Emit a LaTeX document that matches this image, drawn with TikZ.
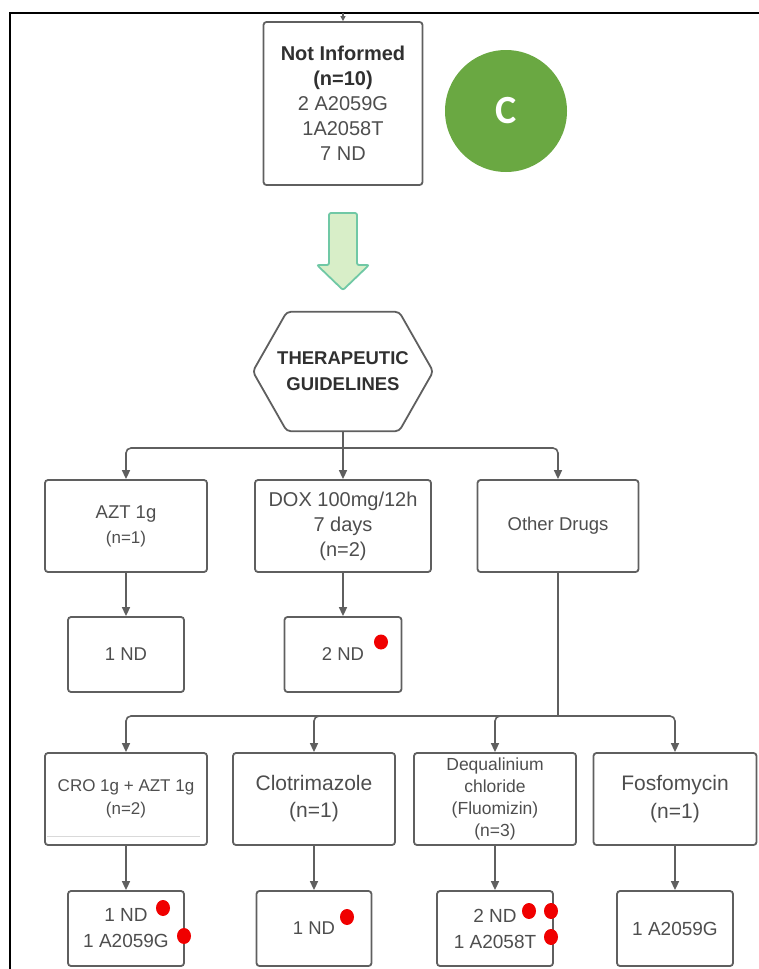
\documentclass[tikz,border=0pt]{standalone}
\usepackage{fontspec}
\setmainfont{Liberation Sans}
\newfontfamily\badgefont{Carlito}
\usepackage{tikz}
\usetikzlibrary{arrows.meta}

\definecolor{linegray}{RGB}{95,95,95}
\definecolor{textgray}{RGB}{78,78,78}
\definecolor{headgray}{RGB}{48,48,48}
\definecolor{badgegreen}{RGB}{106,168,66}
\definecolor{arrowfill}{RGB}{216,238,200}
\definecolor{arrowline}{RGB}{112,200,165}
\definecolor{dotred}{RGB}{240,0,0}

\newcommand{\fsbig}{\fontsize{20}{25}\selectfont}
\newcommand{\fsmid}{\fontsize{18.5}{25}\selectfont}
\newcommand{\fssmall}{\fontsize{17}{23}\selectfont}

\tikzset{
  box/.style={draw=linegray, line width=1.8pt, rounded corners=3pt,
    align=center, text=textgray, inner sep=0pt},
  wire/.style={draw=linegray, line width=1.6pt, rounded corners=5pt},
  link/.style={wire, -{Triangle[length=9pt,width=8pt]}},
  hexline/.style={draw=linegray, line width=1.8pt, rounded corners=4pt},
  reddot/.style={fill=dotred}
}

\begin{document}
\begin{tikzpicture}[x=1pt, y=-1pt]
\useasboundingbox (0,0) rectangle (759,969);
\draw[line width=2.6pt] (10,969) -- (10,13) -- (759,13);

\coordinate (in) at (343,13);
\node[box,
   minimum width=159pt,
   minimum height=163pt,
   font=\fsbig] (NI) at (343,103.5)
  {\textcolor{headgray}{\bfseries Not Informed}\\
   \textcolor{headgray}{\bfseries (n=10)}\\
   2 A2059G\\ 1A2058T\\ 7 ND};
\node[circle,
   fill=badgegreen,
   minimum size=122pt,
   text=white,
   font=\badgefont\bfseries\fontsize{40}{40}\selectfont] (badge) at (506,111)
  {C};

\draw[fill=arrowfill, draw=arrowline, line width=1.8pt, rounded corners=2pt]
  (329,213) -- (357,213) -- (357,265) -- (369,265) -- (343,290)
  -- (317,265) -- (329,265) -- cycle;

\node[minimum width=180pt,
   minimum height=119pt,
   align=center,
   text=headgray,
   font=\bfseries\fontsize{18.5}{26}\selectfont] (TG) at (343,371.5)
  {THERAPEUTIC\\ GUIDELINES};
\draw[hexline] ([xshift=34pt]TG.north west) -- ([xshift=-34pt]TG.north east)
  -- (TG.east) -- ([xshift=-34pt]TG.south east)
  -- ([xshift=34pt]TG.south west) -- (TG.west) -- cycle;

\node[box,
   minimum width=162pt,
   minimum height=92pt,
   font=\fsmid] (AZT) at (126,526)
  {AZT 1g\\ {\fssmall (n=1)}};
\node[box,
   minimum width=176pt,
   minimum height=92pt,
   font=\fsbig] (DOX) at (343,526)
  {DOX 100mg/12h\\ 7 days\\ (n=2)};
\node[box,
   minimum width=161pt,
   minimum height=92pt,
   font=\fsmid] (OD) at (558,526)
  {Other Drugs};

\node[box,
   minimum width=116pt,
   minimum height=75pt,
   font=\fsmid] (R1) at (126,654.5)
  {1 ND};
\node[box,
   minimum width=117pt,
   minimum height=75pt,
   font=\fsmid] (R2) at (343,654.5)
  {2 ND};

\node[box,
   minimum width=162pt,
   minimum height=92pt,
   font=\fssmall] (CRO) at (126,799)
  {CRO 1g + AZT 1g\\ (n=2)};
\node[box,
   minimum width=162pt,
   minimum height=92pt,
   font=\fontsize{21}{27}\selectfont] (CLO) at (314,799)
  {Clotrimazole\\ (n=1)};
\node[box,
   minimum width=162pt,
   minimum height=92pt,
   font=\fontsize{17.5}{22}\selectfont] (DEQ) at (495,799)
  {Dequalinium\\ chloride\\ (Fluomizin)\\ (n=3)};
\node[box,
   minimum width=163pt,
   minimum height=92pt,
   font=\fontsize{21}{28}\selectfont] (FOS) at (675,799)
  {Fosfomycin\\ (n=1)};
\draw[gray!30, line width=0.6pt] (47,836) -- (200,836);

\node[box,
   minimum width=116pt,
   minimum height=75pt,
   font=\fontsize{19}{26}\selectfont] (R3) at (126,928.5)
  {1 ND\\ 1 A2059G};
\node[box,
   minimum width=115pt,
   minimum height=75pt,
   font=\fsmid] (R4) at (314,928.5)
  {1 ND};
\node[box,
   minimum width=116pt,
   minimum height=75pt,
   font=\fontsize{19}{26}\selectfont] (R5) at (495,928.5)
  {2 ND\\ 1 A2058T};
\node[box,
   minimum width=116pt,
   minimum height=75pt,
   font=\fontsize{19}{26}\selectfont] (R6) at (675,928.5)
  {1 A2059G};

\draw[wire, -{Triangle[length=5pt,width=5pt]}] (in) -- (NI.north);

\coordinate (J1) at (TG.south |- 0,448);
\draw[wire] (TG.south) -- (J1);
\draw[link] (J1) -| (AZT.north);
\draw[link] (J1) -- (DOX.north);
\draw[link] (J1) -| (OD.north);

\draw[link] (AZT) -- (R1);
\draw[link] (DOX) -- (R2);

\coordinate (J2) at (OD.south |- 0,716);
\draw[wire] (OD.south) -- (J2);
\draw[link] (J2) -| (CRO.north);
\draw[link] (J2) -| (CLO.north);
\draw[link] (J2) -| (DEQ.north);
\draw[link] (J2) -| (FOS.north);

\draw[link] (CRO) -- (R3);
\draw[link] (CLO) -- (R4);
\draw[link] (DEQ) -- (R5);
\draw[link] (FOS) -- (R6);

\fill[reddot] (381,642) circle[x radius=7pt, y radius=7.5pt];
\fill[reddot] (163,908) circle[x radius=7pt, y radius=8pt];
\fill[reddot] (184,936) circle[x radius=7pt, y radius=8pt];
\fill[reddot] (347,917) circle[x radius=7pt, y radius=8pt];
\fill[reddot] (529,911) circle[x radius=7pt, y radius=8pt];
\fill[reddot] (551,911) circle[x radius=7pt, y radius=8pt];
\fill[reddot] (551,937) circle[x radius=7pt, y radius=8pt];
\end{tikzpicture}
\end{document}
